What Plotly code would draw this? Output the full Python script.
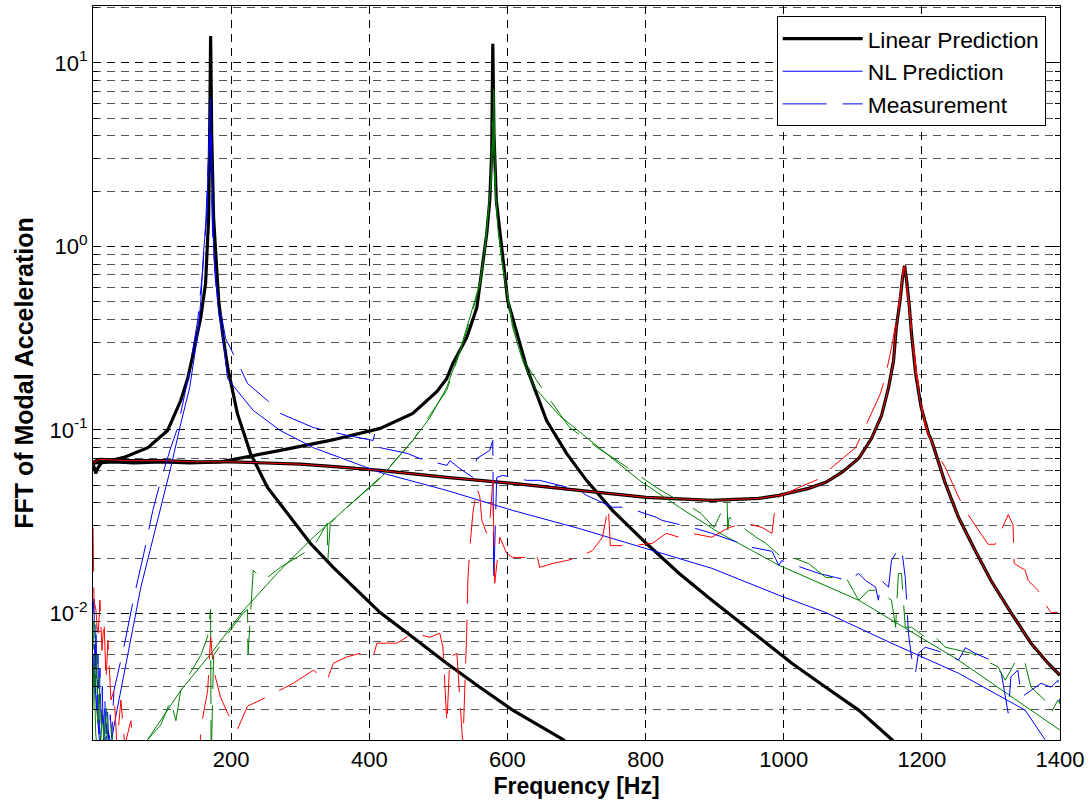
import plotly.graph_objects as go

# ---------------- data (frequency [Hz], FFT amplitude) ----------------
lin1 = [(0, 0.064), (1.4, 0.063), (4, 0.058), (7, 0.062), (12, 0.066), (44.7, 0.0708), (79.4, 0.080),
        (108, 0.0993), (127, 0.1445), (137, 0.19), (146, 0.27), (156, 0.41), (163, 0.63), (166, 0.98),
        (167.4, 1.43), (168.9, 4.1), (170.3, 14.0), (171.8, 4.1), (174.6, 1.43), (179, 0.766), (182, 0.506),
        (187.6, 0.335), (195, 0.219), (209, 0.123), (228, 0.0745), (252.6, 0.0486), (281, 0.0351),
        (314.6, 0.0241), (347.8, 0.0178), (382.5, 0.01336), (415.7, 0.0101), (463, 0.00741), (512, 0.00535),
        (560, 0.00396), (607.6, 0.00297), (680, 0.00206), (700, 0.0018)]

lin2 = [(0, 0.066), (30, 0.067), (60, 0.066), (100, 0.067), (140, 0.066), (184.7, 0.067), (271, 0.0773),
        (343.5, 0.0876), (415.7, 0.1019), (463, 0.1228), (498, 0.162), (512, 0.19), (521, 0.23),
        (541, 0.318), (555.7, 0.464), (564, 0.766), (570, 1.17), (574.4, 1.77), (577.3, 3.32), (578.8, 12.7),
        (580.5, 4.1), (584, 1.77), (590, 1.17), (595, 0.766), (600.4, 0.506), (613.4, 0.335), (627.8, 0.219),
        (656.7, 0.1125), (685.6, 0.0745), (714.4, 0.0531), (752, 0.0364), (801, 0.0241), (848.7, 0.0165),
        (896, 0.0118), (945.4, 0.0084), (993, 0.00606), (1011.8, 0.00535), (1060.8, 0.00396),
        (1108.5, 0.00297), (1156, 0.00206), (1180, 0.0017)]

lin3 = [(0, 0.068), (2, 0.066), (5, 0.068), (10, 0.069), (50, 0.068), (100, 0.068), (150, 0.067),
        (200, 0.067), (250, 0.066), (300, 0.065), (350, 0.063), (415.7, 0.0601), (512, 0.0551),
        (607.6, 0.0511), (704, 0.0468), (801, 0.0429), (896, 0.0413), (964, 0.0423), (993, 0.044),
        (1036, 0.048), (1061, 0.0518), (1084, 0.0586), (1108.5, 0.0698), (1127, 0.0897), (1141.6, 0.1197),
        (1151.8, 0.170), (1159, 0.238), (1163, 0.361), (1169, 0.526), (1172, 0.676), (1175, 0.785),
        (1178, 0.65), (1182, 0.464), (1185, 0.335), (1191, 0.203), (1199, 0.1325), (1209.5, 0.0955),
        (1214, 0.0876), (1234, 0.0511), (1253, 0.0334), (1277, 0.0221), (1300, 0.0151), (1329, 0.0101),
        (1358, 0.00688), (1382.7, 0.00535), (1400, 0.0046)]

nl1 = [(0, 0.004), (1.4, 0.006), (4, 0.0035), (7, 0.0025), (10, 0.0019), (14, 0.0028), (18, 0.002),
       (22, 0.0023), (26, 0.0019), (30, 0.0024), (35, 0.003), (40.4, 0.0038), (54.8, 0.00714), (69.3, 0.0139),
       (83.7, 0.0229), (98.1, 0.0379), (112.6, 0.0624), (127, 0.108), (140, 0.17), (151.5, 0.33), (156, 0.5),
       (160.2, 0.95), (164.5, 1.43), (166, 2.2), (168.9, 4.1), (169.9, 6.4), (171.3, 4.1), (173.2, 1.77),
       (174.6, 0.95), (179, 0.574), (182, 0.43), (187.6, 0.33), (194.8, 0.19), (232, 0.1276), (271, 0.0993),
       (319, 0.080), (368, 0.068), (415.7, 0.0586), (512, 0.0468), (607.6, 0.0364), (704, 0.029),
       (801, 0.0226), (896, 0.0176), (993, 0.01256), (1061, 0.0101), (1156, 0.00688), (1253, 0.00472),
       (1349.5, 0.00297), (1378, 0.00206), (1400, 0.0017)]

nl2 = [(0, 0.0045), (1.4, 0.005), (4, 0.0022), (8, 0.0015), (15, 0.0012), (40, 0.0011), (79.4, 0.00206),
       (127, 0.0038), (174.6, 0.0063), (218, 0.0104), (271, 0.0172), (319, 0.026), (368, 0.0379),
       (415.7, 0.0544), (463, 0.0876), (488, 0.1168), (512, 0.17), (531, 0.27), (545.6, 0.41), (560, 0.63),
       (567, 0.948), (571.6, 1.43), (576, 2.19), (578.8, 4.1), (580.2, 7.2), (583, 1.94), (586, 1.27),
       (591.8, 0.837), (599, 0.555), (607.6, 0.361), (622, 0.238), (639.4, 0.17), (675, 0.12), (733, 0.080),
       (791, 0.0531), (848.7, 0.0379), (906, 0.0276), (993, 0.0183), (1108.5, 0.0118), (1253, 0.00556),
       (1400, 0.00231)]

nl3 = lin3

meas1 = [(0, 0.01), (1.4, 0.012), (3, 0.004), (4.3, 0.009), (6, 0.003), (7.2, 0.006), (9, 0.0022), (10, 0.005),
         (12, 0.0025), (13.5, 0.004), (15, 0.0019), (17, 0.0035), (19, 0.0022), (21, 0.003), (23, 0.0019),
         (25, 0.0028), (27, 0.0021), (30.3, 0.0038), (44.7, 0.00654), (59.2, 0.01225), (73.6, 0.0212),
         (86.6, 0.0364), (98.1, 0.0531), (112.6, 0.080), (122.7, 0.103), (137, 0.186), (151.5, 0.394),
         (158.8, 0.738), (163, 1.3), (166, 2.28), (168, 3.3), (169.3, 4.6), (170.8, 3.0), (173, 1.2),
         (177.5, 0.63), (187.6, 0.38), (192, 0.315), (213.6, 0.216), (223.7, 0.179), (252.6, 0.1445),
         (271, 0.123), (319, 0.103), (368, 0.0933), (405.6, 0.0876), (408, 0.096), (415.7, 0.080),
         (454.6, 0.0745), (473.4, 0.0698), (512.4, 0.064), (516.7, 0.068), (531, 0.0616), (550, 0.0551),
         (555.7, 0.0698), (574.4, 0.0773), (578.8, 0.0876), (580.2, 0.0151), (584.5, 0.0551), (593, 0.0565),
         (627.8, 0.0531), (646.6, 0.0531), (704.3, 0.0468), (714.4, 0.044), (752, 0.0379), (772, 0.0379),
         (815.5, 0.0334), (824, 0.0321), (867.4, 0.0294), (896, 0.0273), (954, 0.0229), (983, 0.0218),
         (993, 0.0183), (997, 0.0194), (1026, 0.0178), (1051, 0.0165), (1075, 0.0157), (1094, 0.0151),
         (1108.5, 0.0165), (1118.6, 0.0151), (1133, 0.0139), (1137, 0.0118), (1141.6, 0.0151), (1151.8, 0.0139),
         (1156, 0.0194), (1162, 0.0212), (1170.5, 0.0229), (1176, 0.0157), (1180.6, 0.0078), (1185, 0.00577),
         (1190.7, 0.00472), (1195, 0.00606), (1205, 0.00654), (1234, 0.00606), (1253, 0.00556), (1263, 0.0065),
         (1277, 0.00606), (1300, 0.00556), (1315, 0.00472), (1325, 0.00286), (1329, 0.00452), (1339, 0.0049),
         (1344, 0.00349), (1358, 0.0038), (1372.6, 0.00416), (1387, 0.00396), (1397, 0.00432), (1400, 0.00324)]

meas2 = [(0, 0.003), (1.4, 0.009), (3, 0.004), (5, 0.006), (7, 0.0025), (9, 0.0045), (11, 0.0019), (13, 0.003),
         (16, 0.002), (19, 0.0032), (22, 0.0019), (26, 0.0025), (30, 0.0017), (40, 0.0012), (70, 0.0012),
         (79.4, 0.00206), (98, 0.00246), (112.6, 0.00337), (120, 0.0026), (127, 0.0038), (141.4, 0.00478),
         (156, 0.0059), (166, 0.0075), (170.3, 0.0105), (171, 0.0015), (174.6, 0.0059), (199, 0.0081),
         (218, 0.0101), (223.7, 0.0105), (224.5, 0.006), (232, 0.0172), (247, 0.0151), (271, 0.0178),
         (319, 0.0229), (339, 0.031), (340, 0.0194), (343.5, 0.031), (368, 0.0379), (415.7, 0.0551),
         (463, 0.0876), (512, 0.164), (531, 0.264), (545.6, 0.394), (560, 0.611), (567, 0.925), (571.6, 1.38),
         (576, 2.14), (578.8, 4.8), (581.6, 2.27), (586, 1.3), (591.8, 0.857), (599, 0.574), (607.6, 0.38),
         (622, 0.245), (642.3, 0.186), (675.4, 0.123), (690, 0.103), (736, 0.0773), (752, 0.0708),
         (815.5, 0.0486), (830, 0.045), (866, 0.0379), (880, 0.0351), (899, 0.0294), (918, 0.0413),
         (919, 0.0285), (921, 0.0334), (960, 0.026), (974, 0.0241), (997, 0.0202), (1011.8, 0.0202),
         (1036, 0.0187), (1061, 0.0157), (1090, 0.0157), (1108.5, 0.0118), (1123, 0.01336), (1137, 0.01336),
         (1156, 0.0118), (1162, 0.0084), (1166, 0.0165), (1170.5, 0.0165), (1176, 0.0084), (1185, 0.0084),
         (1205, 0.00741), (1214, 0.0078), (1234, 0.00654), (1253, 0.0063), (1272, 0.00606), (1300, 0.00535),
         (1310.5, 0.0051), (1320.6, 0.00432), (1339, 0.00577), (1349.5, 0.00535), (1358, 0.00396),
         (1378, 0.00337), (1387, 0.00286), (1397, 0.00337), (1400, 0.0032)]

meas3 = [(0, 0.0294), (1.4, 0.0118), (4.3, 0.0104), (7.2, 0.00714), (10, 0.0118), (13, 0.0063), (16, 0.0092),
         (18.8, 0.0043), (21.6, 0.00714), (26, 0.00337), (30.3, 0.0038), (34.6, 0.0019), (40.4, 0.00337),
         (46, 0.0019), (54.8, 0.0026), (59, 0.0019), (98, 0.0015), (154, 0.0015), (156, 0.00236),
         (166, 0.0038), (170.3, 0.00741), (174.6, 0.00492), (184.7, 0.00349), (194.8, 0.00286), (209, 0.00233),
         (223.7, 0.00312), (242.5, 0.00337), (271, 0.0038), (290, 0.00416), (319, 0.0049), (339, 0.00432),
         (348, 0.00535), (368, 0.0058), (386.8, 0.00606), (405.6, 0.0058), (411, 0.00688), (440, 0.00688),
         (463, 0.0078), (488, 0.00741), (502, 0.0078), (506.6, 0.00654), (512.4, 0.00249), (516.7, 0.0058),
         (526.8, 0.00606), (531, 0.00367), (535.5, 0.0019), (541, 0.0078), (542.7, 0.0151), (545.6, 0.0229),
         (550, 0.0351), (555.7, 0.0486), (560, 0.0431), (563, 0.0321), (570, 0.0273), (574.4, 0.031),
         (578.8, 0.0531), (581.6, 0.0146), (589, 0.026), (599, 0.0212), (607.6, 0.0202), (627.8, 0.0202),
         (642.3, 0.0212), (646.6, 0.0178), (665, 0.0187), (685.6, 0.0194), (704, 0.0202), (723, 0.022),
         (737.5, 0.026), (746, 0.0379), (749, 0.0234), (781, 0.0234), (810, 0.0241), (830, 0.0273),
         (848.7, 0.026), (867, 0.0273), (896, 0.026), (921, 0.0294), (945, 0.031), (968.5, 0.0294),
         (983, 0.0273), (988.7, 0.0413), (993, 0.0431), (1022, 0.0486), (1051, 0.054), (1069.5, 0.0624),
         (1104, 0.080), (1115.7, 0.0993), (1127, 0.1228), (1140, 0.1575), (1147, 0.194), (1156, 0.28),
         (1163, 0.394), (1169, 0.555), (1173.4, 0.766), (1176, 0.69), (1180.6, 0.506), (1185, 0.35),
         (1192, 0.21), (1199, 0.1445), (1205, 0.103), (1219.6, 0.0773), (1234, 0.0624), (1253, 0.0431),
         (1263, 0.0364), (1281.6, 0.0285), (1296, 0.0238), (1306, 0.0238), (1315, 0.0285), (1325, 0.0345),
         (1332, 0.0304), (1333.7, 0.0187), (1349.5, 0.0172), (1354, 0.0151), (1368, 0.01336), (1378, 0.0113),
         (1387, 0.0101), (1397, 0.0101)]

x_ticks = [200, 400, 600, 800, 1000, 1200, 1400]
y_ticks = [0.01, 0.1, 1, 10]
y_tick_text = ["10<sup>-2</sup>", "10<sup>-1</sup>", "10<sup>0</sup>", "10<sup>1</sup>"]

BLUE, GREEN, RED, BLACK = "#0000FF", "#008000", "#FF0000", "#000000"
MEAS_DASH = "44px,16px"
FONT = "Liberation Sans, Arial, Helvetica, sans-serif"


def xs(d):
    return [p[0] for p in d]


def ys(d):
    return [p[1] for p in d]


fig = go.Figure()

# linear predictions (thick black)
for i, d in enumerate([lin1, lin2, lin3]):
    fig.add_trace(go.Scatter(x=xs(d), y=ys(d), mode="lines", name="Linear Prediction",
                             line=dict(color=BLACK, width=3.2), showlegend=(i == 0)))
# NL predictions (thin solid)
for i, (d, c) in enumerate([(nl1, BLUE), (nl2, GREEN), (nl3, RED)]):
    fig.add_trace(go.Scatter(x=xs(d), y=ys(d), mode="lines", name="NL Prediction",
                             line=dict(color=c, width=1), showlegend=(i == 0)))
# measurements (thin dashed)
for i, (d, c) in enumerate([(meas1, BLUE), (meas2, GREEN), (meas3, RED)]):
    fig.add_trace(go.Scatter(x=xs(d), y=ys(d), mode="lines", name="Measurement",
                             line=dict(color=c, width=1, dash=MEAS_DASH), showlegend=(i == 0)))

minor_vals = [m * 10 ** e for e in range(-3, 2) for m in range(2, 10)]

fig.update_layout(
    width=1089, height=805,
    margin=dict(l=93, r=27, t=5, b=65),
    paper_bgcolor="white", plot_bgcolor="white",
    font=dict(family=FONT, size=22, color="black"),
    showlegend=True,
    legend=dict(x=0.707, y=0.986, xanchor="left", yanchor="top",
                bgcolor="white", bordercolor="black", borderwidth=1,
                font=dict(family=FONT, size=22.8, color="black"),
                itemwidth=80, tracegroupgap=0),
)

fig.update_xaxes(
    range=[0, 1400], tickmode="array", tickvals=x_ticks,
    showgrid=True, gridcolor="black", gridwidth=1, griddash="8px,6px",
    showline=True, linecolor="black", linewidth=1, mirror="ticks",
    ticks="inside", ticklen=7, tickcolor="black", zeroline=False,
    tickfont=dict(family=FONT, size=22),
    title=dict(text="<b>Frequency [Hz]</b>", font=dict(family=FONT, size=23), standoff=6),
)

fig.update_yaxes(
    type="log", range=[-2.69, 1.31], tickmode="array", tickvals=y_ticks, ticktext=y_tick_text,
    showgrid=True, gridcolor="black", gridwidth=1, griddash="8px,6px",
    showline=True, linecolor="black", linewidth=1, mirror="ticks",
    ticks="inside", ticklen=7, tickcolor="black", zeroline=False,
    tickfont=dict(family=FONT, size=22),
    minor=dict(tickmode="array", tickvals=minor_vals, ticks="inside", ticklen=5, tickcolor="black",
               showgrid=True, gridcolor="#555555", gridwidth=1, griddash="8px,6px"),
    title=dict(text="<b>FFT of Modal Acceleration</b>", font=dict(family=FONT, size=25), standoff=8),
)

fig.write_html("out.html")
